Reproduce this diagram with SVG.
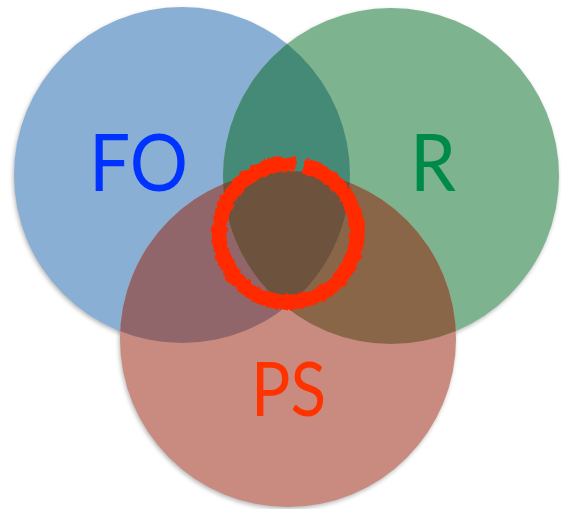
<svg xmlns="http://www.w3.org/2000/svg" width="561" height="509" viewBox="0 0 561 509">
  <defs>
    <style>
      .lbl { font-family: Lato, "Open Sans", "Liberation Sans", sans-serif; font-weight: 400; }
    </style>
    <circle id="cBlue" cx="182" cy="175" r="168"/>
    <circle id="cGreen" cx="391" cy="176" r="168"/>
    <circle id="cRed" cx="288" cy="339" r="168"/>
    <clipPath id="clipBlue"><use href="#cBlue"/></clipPath>
    <clipPath id="clipGreen"><use href="#cGreen"/></clipPath>
    <clipPath id="clipBlueGreen" clip-path="url(#clipBlue)"><use href="#cGreen"/></clipPath>
    <filter id="shadow" x="-10%" y="-10%" width="120%" height="120%">
      <feGaussianBlur stdDeviation="2.2"/>
    </filter>
    <filter id="rough" x="-20%" y="-20%" width="140%" height="140%">
      <feTurbulence type="fractalNoise" baseFrequency="0.18" numOctaves="3" seed="7" result="n"/>
      <feDisplacementMap in="SourceGraphic" in2="n" scale="6" xChannelSelector="R" yChannelSelector="G"/>
    </filter>
  </defs>

  <g id="shadows" filter="url(#shadow)" fill="#000" fill-opacity="0.28" transform="translate(-1,2)">
    <use href="#cBlue"/>
    <use href="#cGreen"/>
    <use href="#cRed"/>
  </g>

  <g id="fo">
    <use href="#cBlue" fill="#8AAFD4"/>
    <text class="lbl" x="89" y="191" font-size="79" fill="#0033FF" textLength="99" lengthAdjust="spacingAndGlyphs">FO</text>
  </g>

  <g id="r">
    <use href="#cGreen" fill="#7EB38F"/>
    <text class="lbl" x="410" y="191" font-size="79" fill="#008A4A" textLength="46" lengthAdjust="spacingAndGlyphs">R</text>
  </g>

  <g id="ps">
    <use href="#cRed" fill="#C98B7F"/>
  </g>

  <g id="overlaps">
    <use href="#cGreen" fill="#458A77" clip-path="url(#clipBlue)"/>
    <use href="#cRed" fill="#91666A" clip-path="url(#clipBlue)"/>
    <use href="#cRed" fill="#8A6649" clip-path="url(#clipGreen)"/>
    <use href="#cRed" fill="#6D523D" clip-path="url(#clipBlueGreen)"/>
  </g>

  <g id="ps-label">
    <text class="lbl" x="251" y="416" font-size="76" fill="#FF3300" textLength="75" lengthAdjust="spacingAndGlyphs">PS</text>
  </g>

  <g id="connectors">
    <path id="ring" d="M303.5,165.8 A69,69 0 1 1 295.8,164.5" fill="none" stroke="#FF2A00" stroke-width="15" stroke-linecap="butt" filter="url(#rough)"/>
  </g>
</svg>
